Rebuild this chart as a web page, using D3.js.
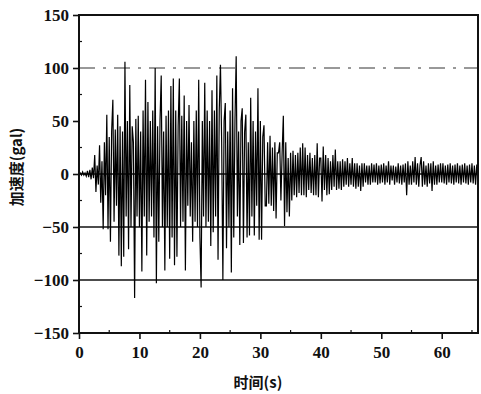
<!DOCTYPE html>
<html>
<head>
<meta charset="utf-8">
<script src="https://cdn.jsdelivr.net/npm/d3@7"></script>
<style>
  body { margin: 0; background: #fff; }
</style>
</head>
<body>
<div id="chart"></div>
<script>
// acceleration record, one value every 0.2 s (gal)
const dt = 0.2;
const accel = [
  0, 1, -1, 2, -1,        1, -2, 3, -3, 4,
  -5, 6, -4, 18, -17,     8, -10, 27, -27, 12,
  -52, 30, -20, 56, -52,  35, -64, 40, 70, -45,
  42, -30, 56, -77, 45,   -87, 40, -78, 106, -40,
  50, -71, 84, -50, 45,   30, -117, 52, -40, 55,
  -50, 40, -92, 60, -40,  89, -77, 68, -45, 50,
  -40, 60, -60, 100, -103, 45, -64, 50, 93, -50,
  40, -91, 55, -50, 60,   -80, 83, -60, 90, -86,
  60, -78, 45, 90, -50,   55, -45, 74, -91, 50,
  -30, 65, -40, 30, -64,  50, -45, 60, -50, 89,
  -60, -107, 50, -40, 86, -50, 60, -45, 50, -68,
  79, -55, 60, -40, 93,   -81, 60, 103, 30, -100,
  50, 67, -70, 40, -50,   60, -93, 81, -60, 50,
  111, -40, 40, -67, 50,  62, -65, 40, 56, -60,
  30, -58, 72, -40, 50,   -58, 40, -30, 81, -62,
  50, -62, 35, 46, -30,   -30, 30, -28, 36, -30,
  25, -35, 30, -42, 20,   20, 30, -25, 20, 55,
  -49, 30, -36, 15, -40,  20, -25, 22, -20, 18,
  -22, 20, -18, 25, -20,  29, -20, 25, -22, 18,
  -15, 20, -18, 15, -20,  18, -20, 29, -22, 15,
  15, -26, 26, -15, 18,   -20, 15, -19, 12, -15,
  18, -12, 23, -15, 12,   -14, 12, -15, 14, -12,
  12, -10, 15, -12, 10,   -10, 15, -12, 10, -14,
  10, -12, 8, -16, 10,    -12, 10, -8, 8, -10,
  8, -10, 10, -8, 9,      -8, 10, -10, 8, -9,
  9, -8, 10, -10, 8,      -8, 12, -10, 8, -6,
  8, -10, 7, -8, 10,      -9, 8, -10, 9, -8,
  10, -20, 12, -10, 8,    -10, 12, -8, 16, -10,
  10, -12, 8, 16, -12,    12, -10, 8, -12, 10,
  -9, 10, -16, 12, -10,   8, -10, 9, -8, 10,
  -8, 10, -9, 8, -10,     9, -8, 10, -9, 8,
  -10, 9, -8, 10, -9,     8, -10, 9, -8, 10,
  -9, 8, -10, 9, -8,      10, -9, 8, -10, 9,
  -8
];

const xTicks = [0, 10, 20, 30, 40, 50, 60];
const yTicks = [-150, -100, -50, 0, 50, 100, 150];
const solidLines = [0, -50, -100];
const dashedLines = [100];
const xTitle = '时间(s)';
const yTitle = '加速度(gal)';

const width = 481, height = 394;
const margin = {top: 15, right: 3, bottom: 61, left: 79};
const serif = '"Liberation Serif", "DejaVu Serif", serif';
const cjk = '"Noto Sans CJK SC", sans-serif';

const svg = d3.select('#chart').append('svg')
  .attr('width', width)
  .attr('height', height);

const x = d3.scaleLinear().domain([0, 66]).range([margin.left, width - margin.right]);
const y = d3.scaleLinear().domain([-150, 150]).range([height - margin.bottom, margin.top]);

// reference lines
svg.selectAll('.hline')
  .data(solidLines)
  .enter().append('line')
  .attr('x1', x(0)).attr('x2', x(66))
  .attr('y1', d => y(d)).attr('y2', d => y(d))
  .attr('stroke', '#111').attr('stroke-width', 1.3);

svg.selectAll('.dline')
  .data(dashedLines)
  .enter().append('line')
  .attr('x1', x(0)).attr('x2', x(66))
  .attr('y1', d => y(d)).attr('y2', d => y(d))
  .attr('stroke', '#333').attr('stroke-width', 1)
  .attr('stroke-dasharray', '16,8,3,8');

// the record
const line = d3.line()
  .x((d, i) => x(i * dt))
  .y(d => y(d));

svg.append('path')
  .datum(accel)
  .attr('d', line)
  .attr('fill', 'none')
  .attr('stroke', '#000')
  .attr('stroke-width', 1.2);

// frame
svg.append('rect')
  .attr('x', x(0)).attr('y', y(150))
  .attr('width', x(66) - x(0)).attr('height', y(-150) - y(150))
  .attr('fill', 'none').attr('stroke', '#111').attr('stroke-width', 2);

// axes
const xAxis = d3.axisBottom(x).tickValues(xTicks).tickSize(6).tickPadding(7).tickFormat(d3.format('d'));
const yAxis = d3.axisLeft(y).tickValues(yTicks).tickSize(6).tickPadding(4).tickFormat(d => d < 0 ? '\u2212' + Math.abs(d) : d);

const gx = svg.append('g').attr('transform', `translate(0,${y(-150)})`).call(xAxis);
const gy = svg.append('g').attr('transform', `translate(${x(0)},0)`).call(yAxis);

[gx, gy].forEach(g => {
  g.select('.domain').remove();
  g.selectAll('.tick line').attr('stroke', '#111').attr('stroke-width', 1.6);
  g.selectAll('.tick text')
    .style('font-family', serif)
    .style('font-weight', 'bold')
    .style('font-size', '17px')
    .attr('fill', '#111');
});

// minor ticks, pointing in
svg.selectAll('.xminor')
  .data(d3.range(5, 66, 10))
  .enter().append('line')
  .attr('x1', d => x(d)).attr('x2', d => x(d))
  .attr('y1', y(-150)).attr('y2', y(-150) - 3)
  .attr('stroke', '#111').attr('stroke-width', 1.2);

svg.selectAll('.yminor')
  .data(d3.range(-125, 150, 50))
  .enter().append('line')
  .attr('x1', x(0)).attr('x2', x(0) + 3)
  .attr('y1', d => y(d)).attr('y2', d => y(d))
  .attr('stroke', '#111').attr('stroke-width', 1.2);

// titles
svg.append('text')
  .attr('x', 258)
  .attr('y', 388)
  .attr('text-anchor', 'middle')
  .style('font-family', cjk)
  .style('font-weight', 'bold')
  .style('font-size', '15px')
  .attr('fill', '#111')
  .text(xTitle);

svg.append('text')
  .attr('transform', 'translate(22,167) rotate(-90)')
  .attr('text-anchor', 'middle')
  .style('font-family', cjk)
  .style('font-weight', 'bold')
  .style('font-size', '15px')
  .attr('fill', '#111')
  .text(yTitle);
</script>
</body>
</html>
